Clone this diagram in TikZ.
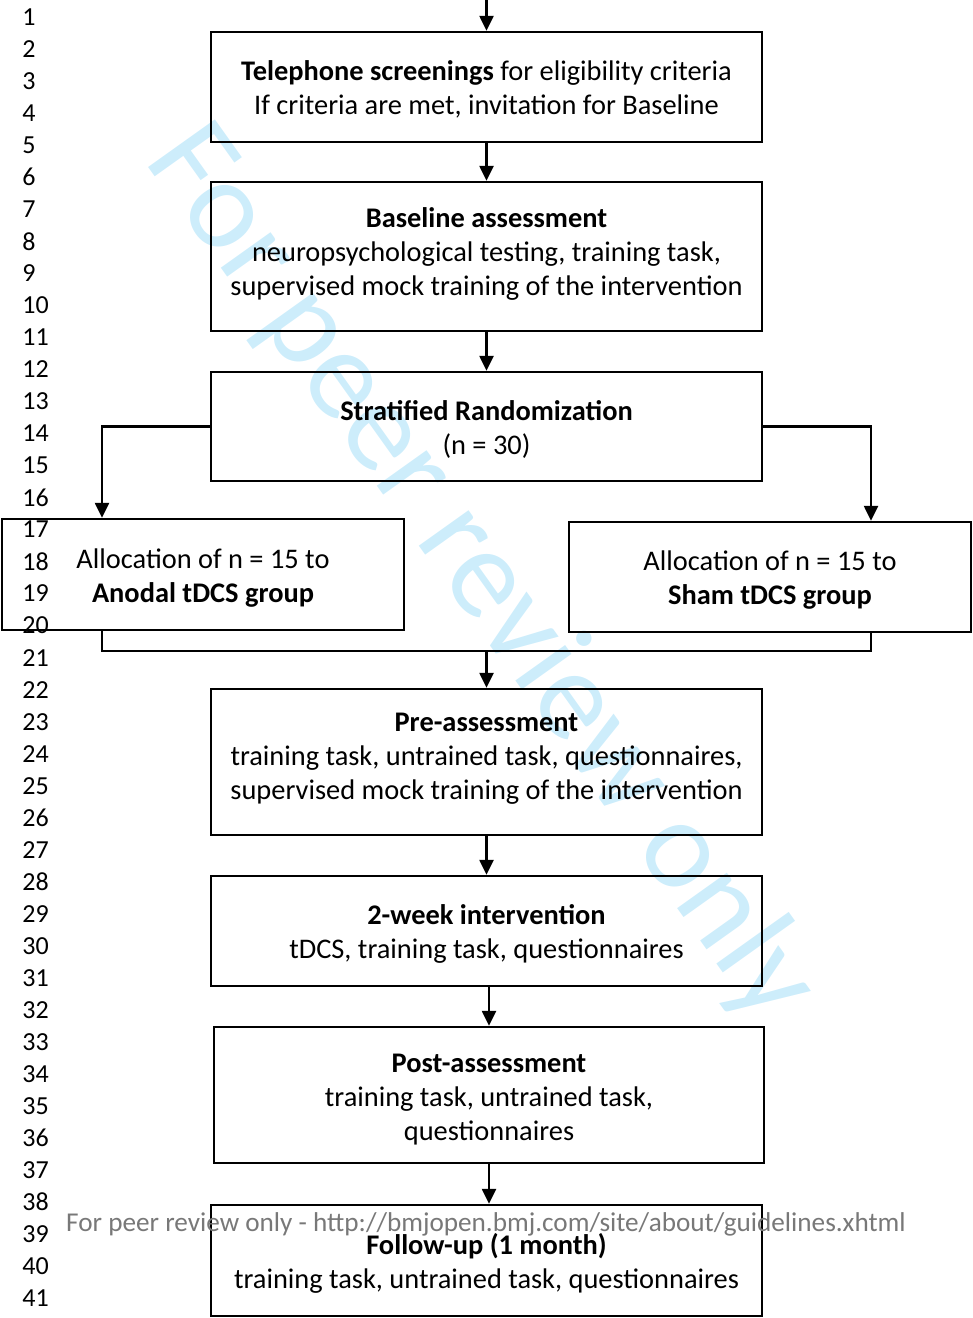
\documentclass[tikz,border=0pt]{standalone}
\usepackage{fontspec}
\setmainfont{Carlito}
\usetikzlibrary{arrows.meta}
\definecolor{wmark}{RGB}{205,237,251}
\definecolor{foot}{RGB}{120,120,120}
\begin{document}
\begin{tikzpicture}
	[x=0.5pt,y=-0.5pt,
	 box/.style={draw,line width=1.2pt,align=center,inner sep=0pt,
	   text height=30.5pt,text depth=3pt,
	   font=\fontsize{14.2}{17}\selectfont},
	 arr/.style={line width=1.2pt,-{Triangle[length=7.5pt,width=7pt]}},
	 lnum/.style={anchor=west,inner sep=0pt,font=\fontsize{13}{15}\selectfont}]
	\useasboundingbox (0,0) rectangle (973,1318);

	% watermark behind everything
	\node[rotate=-54.5,text=wmark,font=\fontsize{64}{64}\selectfont] (wm) at (481,574) {For peer review only};

	% line numbers
	\foreach \i in {1,...,41}
		\node[lnum] (ln\i) at (22,{17+32.03*(\i-1)}) {\i};

	\coordinate (top) at (486.5,0);
	\node[box,minimum width=275.5pt,minimum height=55pt] (phone) at (486.5,87)
		{\textbf{Telephone screenings} for eligibility criteria\\If criteria are met, invitation for Baseline};
	\node[box,minimum width=275.5pt,minimum height=74.5pt,text height=42pt] (base) at (486.5,256.5)
		{\textbf{Baseline assessment}\\neuropsychological testing, training task,\\supervised mock training of the intervention};
	\node[box,minimum width=275.5pt,minimum height=54.5pt] (rand) at (486.5,426.5)
		{\textbf{Stratified Randomization}\\(n = 30)};
	\node[box,minimum width=201pt,minimum height=55.5pt] (anodal) at (203,574.5)
		{Allocation of n = 15 to\\\textbf{Anodal tDCS group}};
	\node[box,minimum width=201pt,minimum height=55pt] (sham) at (770,577)
		{Allocation of n = 15 to\\\textbf{Sham tDCS group}};
	\node[box,minimum width=275.5pt,minimum height=73pt,text height=40pt] (pre) at (486.5,762)
		{\textbf{Pre-assessment}\\training task, untrained task, questionnaires,\\supervised mock training of the intervention};
	\node[box,minimum width=275.5pt,minimum height=55pt] (inter) at (486.5,931)
		{\textbf{2-week intervention}\\tDCS, training task, questionnaires};
	\node[box,minimum width=275pt,minimum height=68pt,text height=48pt] (post) at (489,1095)
		{\textbf{Post-assessment}\\training task, untrained task,\\questionnaires};
	\node[box,minimum width=275.5pt,minimum height=55.5pt] (follow) at (486.5,1260.5)
		{\textbf{Follow-up (1 month)}\\training task, untrained task, questionnaires};

	\coordinate (lbr) at (102,651);
	\coordinate (rbr) at (871,651);

	\draw[arr] (top) -- (phone);
	\draw[arr] (phone) -- (base);
	\draw[arr] (base) -- (rand);
	\draw[arr] (rand.west) -| (lbr |- anodal.north);
	\draw[arr] (rand.east) -| (rbr |- sham.north);
	\draw[line width=1.2pt] (lbr |- anodal.south) -- (lbr) -- (rbr) -- (rbr |- sham.south);
	\draw[arr] (lbr -| pre.north) -- (pre);
	\draw[arr] (pre) -- (inter);
	\draw[arr] (inter.south -| post.north) -- (post);
	\draw[arr] (post) -- (post.south |- follow.north);

	% footer on top
	\node[text=foot,inner sep=0pt,font=\fontsize{13.6}{15}\selectfont] (footer) at (486,1224)
		{For peer review only - http://bmjopen.bmj.com/site/about/guidelines.xhtml};
\end{tikzpicture}
\end{document}
